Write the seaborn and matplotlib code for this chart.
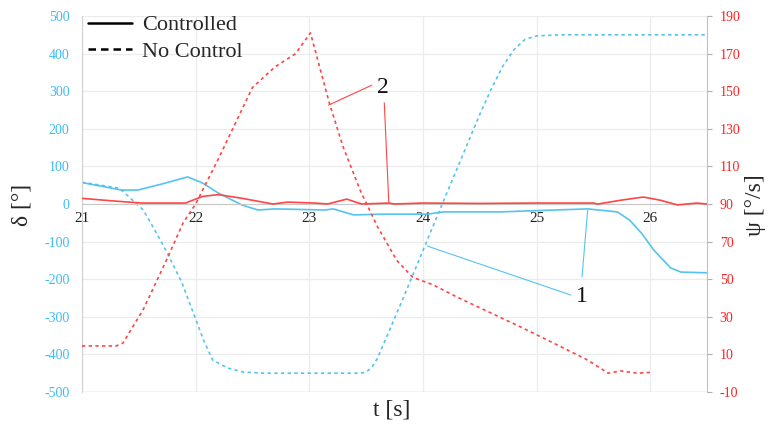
import matplotlib
matplotlib.use("Agg")
import matplotlib.pyplot as plt
import seaborn as sns
import pandas as pd
from matplotlib.lines import Line2D

# DATA

# rudder angle delta [deg], controlled (solid blue)
t_delta_ctrl = [21.0, 21.35, 21.49, 21.7, 21.93, 22.06, 22.2, 22.41, 22.55, 22.7, 23.14, 23.21, 23.39,
                23.65, 24.04, 24.18, 24.68, 25.45, 25.71, 25.82, 25.93, 26.03, 26.18, 26.27, 26.5]
delta_ctrl = [57, 37, 37, 53, 72, 56, 29, -3, -16, -13, -16, -13, -29,
              -27, -27, -21, -21, -13, -21, -43, -80, -122, -170, -181, -183]

# rudder angle delta [deg], no control (dashed blue)
t_delta_nc = [21.0, 21.33, 21.54, 21.69, 21.76, 21.88, 21.98, 22.07, 22.15, 22.28, 22.42, 22.6, 23.45,
              23.5, 23.55, 23.6, 23.7, 23.82, 24.0, 24.17, 24.37, 24.5, 24.6, 24.7, 24.8, 24.9, 25.0, 25.2, 26.5]
delta_nc = [58, 42, -16, -96, -136, -210, -290, -362, -415, -436, -447, -450, -450,
            -447, -435, -410, -340, -255, -124, 0, 144, 238, 305, 365, 410, 438, 447, 450, 450]

# yaw rate psi [deg/s], controlled (solid red)
t_psi_ctrl = [21.0, 21.3, 21.53, 21.91, 22.06, 22.2, 22.41, 22.68, 22.81, 23.05, 23.16, 23.33, 23.46,
              23.7, 23.75, 24.0, 24.5, 25.0, 25.5, 25.54, 25.74, 25.94, 26.09, 26.24, 26.41, 26.5]
psi_ctrl = [93, 91.5, 90.5, 90.5, 94, 95, 93, 90, 91, 90.5, 90, 92.6, 90,
            90.5, 90, 90.5, 90.3, 90.5, 90.5, 90, 92, 93.7, 92, 89.5, 90.5, 90]

# yaw rate psi [deg/s], no control (dashed red)
t_psi_nc = [21.0, 21.3, 21.36, 21.44, 21.54, 21.75, 21.89, 22.0, 22.2, 22.5, 22.7, 22.88, 23.01,
            23.18, 23.3, 23.45, 23.6, 23.77, 23.91, 24.09, 24.3, 24.86, 25.15, 25.45, 25.63, 25.74, 25.89, 26.02]
psi_nc = [14.5, 14.5, 16, 24, 34, 61, 80, 90, 114, 152, 163, 170, 181,
          143, 120, 97, 78, 60, 51, 47, 40.5, 24.6, 16, 7, 0, 1.2, 0, 0.5]

x_ticks = [21, 22, 23, 24, 25, 26]
delta_ticks = list(range(-500, 501, 100))
psi_ticks = list(range(-10, 191, 20))

# annotation leaders: label text, label position, list of (start, end) in (t, delta)
notes = [
    ("1", (25.40, -245), [((25.30, -242), (24.04, -112)), ((25.40, -194), (25.45, -16))]),
    ("2", (23.65, 309), [((23.55, 316), (23.17, 263)), ((23.66, 269), (23.70, 3))]),
]

blue = "#55c3f0"
red = "#ff4545"
blue_txt = "#3dbcf3"
red_txt = "#ff2222"

sns.set_style("white")
plt.rcParams["font.family"] = ["Liberation Serif", "DejaVu Serif"]

fig = plt.figure(figsize=(7.69, 4.28), dpi=100)
ax = fig.add_axes([82 / 769, 1 - 392 / 428, 625 / 769, 376 / 428])
ax2 = ax.twinx()

df_dc = pd.DataFrame({"t": t_delta_ctrl, "v": delta_ctrl})
df_dn = pd.DataFrame({"t": t_delta_nc, "v": delta_nc})
df_pc = pd.DataFrame({"t": t_psi_ctrl, "v": psi_ctrl})
df_pn = pd.DataFrame({"t": t_psi_nc, "v": psi_nc})

sns.lineplot(data=df_dc, x="t", y="v", ax=ax, color=blue, lw=1.2, sort=False)
sns.lineplot(data=df_dn, x="t", y="v", ax=ax, color=blue, lw=1.2, ls=(0, (2, 2)), sort=False)
sns.lineplot(data=df_pc, x="t", y="v", ax=ax2, color=red, lw=1.2, sort=False)
sns.lineplot(data=df_pn, x="t", y="v", ax=ax2, color=red, lw=1.2, ls=(0, (2, 2)), sort=False)

ax.set_xlim(21, 26.5)
ax.set_ylim(-500, 500)
ax2.set_ylim(-10, 190)

# left axis
ax.set_yticks(delta_ticks)
ax.set_yticklabels([str(v) for v in delta_ticks])
ax.tick_params(axis="y", length=0, pad=9, labelsize=10, labelcolor=blue_txt)
ax.set_xticks(x_ticks)
ax.set_xticklabels([str(v) for v in x_ticks])
ax.tick_params(axis="x", length=0, pad=6, labelsize=11, labelcolor="#222222")
ax.spines["bottom"].set_position(("data", 0))
ax.spines["bottom"].set_color("#c8c8c8")
ax.spines["left"].set_color("#d0d0d0")
ax.spines["top"].set_visible(False)
ax.spines["right"].set_visible(False)
ax.axhline(-500, color="#d6d6d6", lw=1.0)
ax.grid(True, color="#ececec", lw=0.9)
ax.set_xlabel("")
ax.set_ylabel("")

# right axis
ax2.set_yticks(psi_ticks)
ax2.set_yticklabels([str(v) for v in psi_ticks])
ax2.tick_params(axis="y", length=3.6, width=0.8, color="#b0b0b0", pad=5.5, labelsize=10, labelcolor=red_txt)
ax2.spines["right"].set_color("#c0c0c0")
for s in ["left", "top", "bottom"]:
    ax2.spines[s].set_visible(False)
ax2.grid(False)
ax2.set_ylabel("")

# annotations
for label, pos, leaders in notes:
    col = blue if label == "1" else red
    for start, end in leaders:
        ax.annotate("", xy=end, xytext=start,
                    arrowprops=dict(arrowstyle="-", color=col, lw=0.8, shrinkA=0, shrinkB=0))
    ax.text(pos[0], pos[1], label, fontsize=17, ha="center", va="center", color="#111111")

# legend
handles = [Line2D([], [], color="black", lw=1.8),
           Line2D([], [], color="black", lw=1.8, ls=(0, (3, 2)))]
ax2.legend(handles, ["Controlled", "No Control"], loc="upper left",
           bbox_to_anchor=(0.006, 1.009), frameon=False, fontsize=16,
           handlelength=2.0, handletextpad=0.45, labelspacing=0.28,
           borderpad=0.1, borderaxespad=0)

fig.text(392 / 769, 1 - 410 / 428, "t [s]", fontsize=17, ha="center", va="center")
fig.text(22 / 769, 1 - 205 / 428, "δ [°]", fontsize=17, ha="center", va="center", rotation=90)
fig.text(755 / 769, 1 - 205 / 428, "ψ [°/s]", fontsize=17, ha="center", va="center", rotation=90)

plt.savefig("out.png", dpi=100)
